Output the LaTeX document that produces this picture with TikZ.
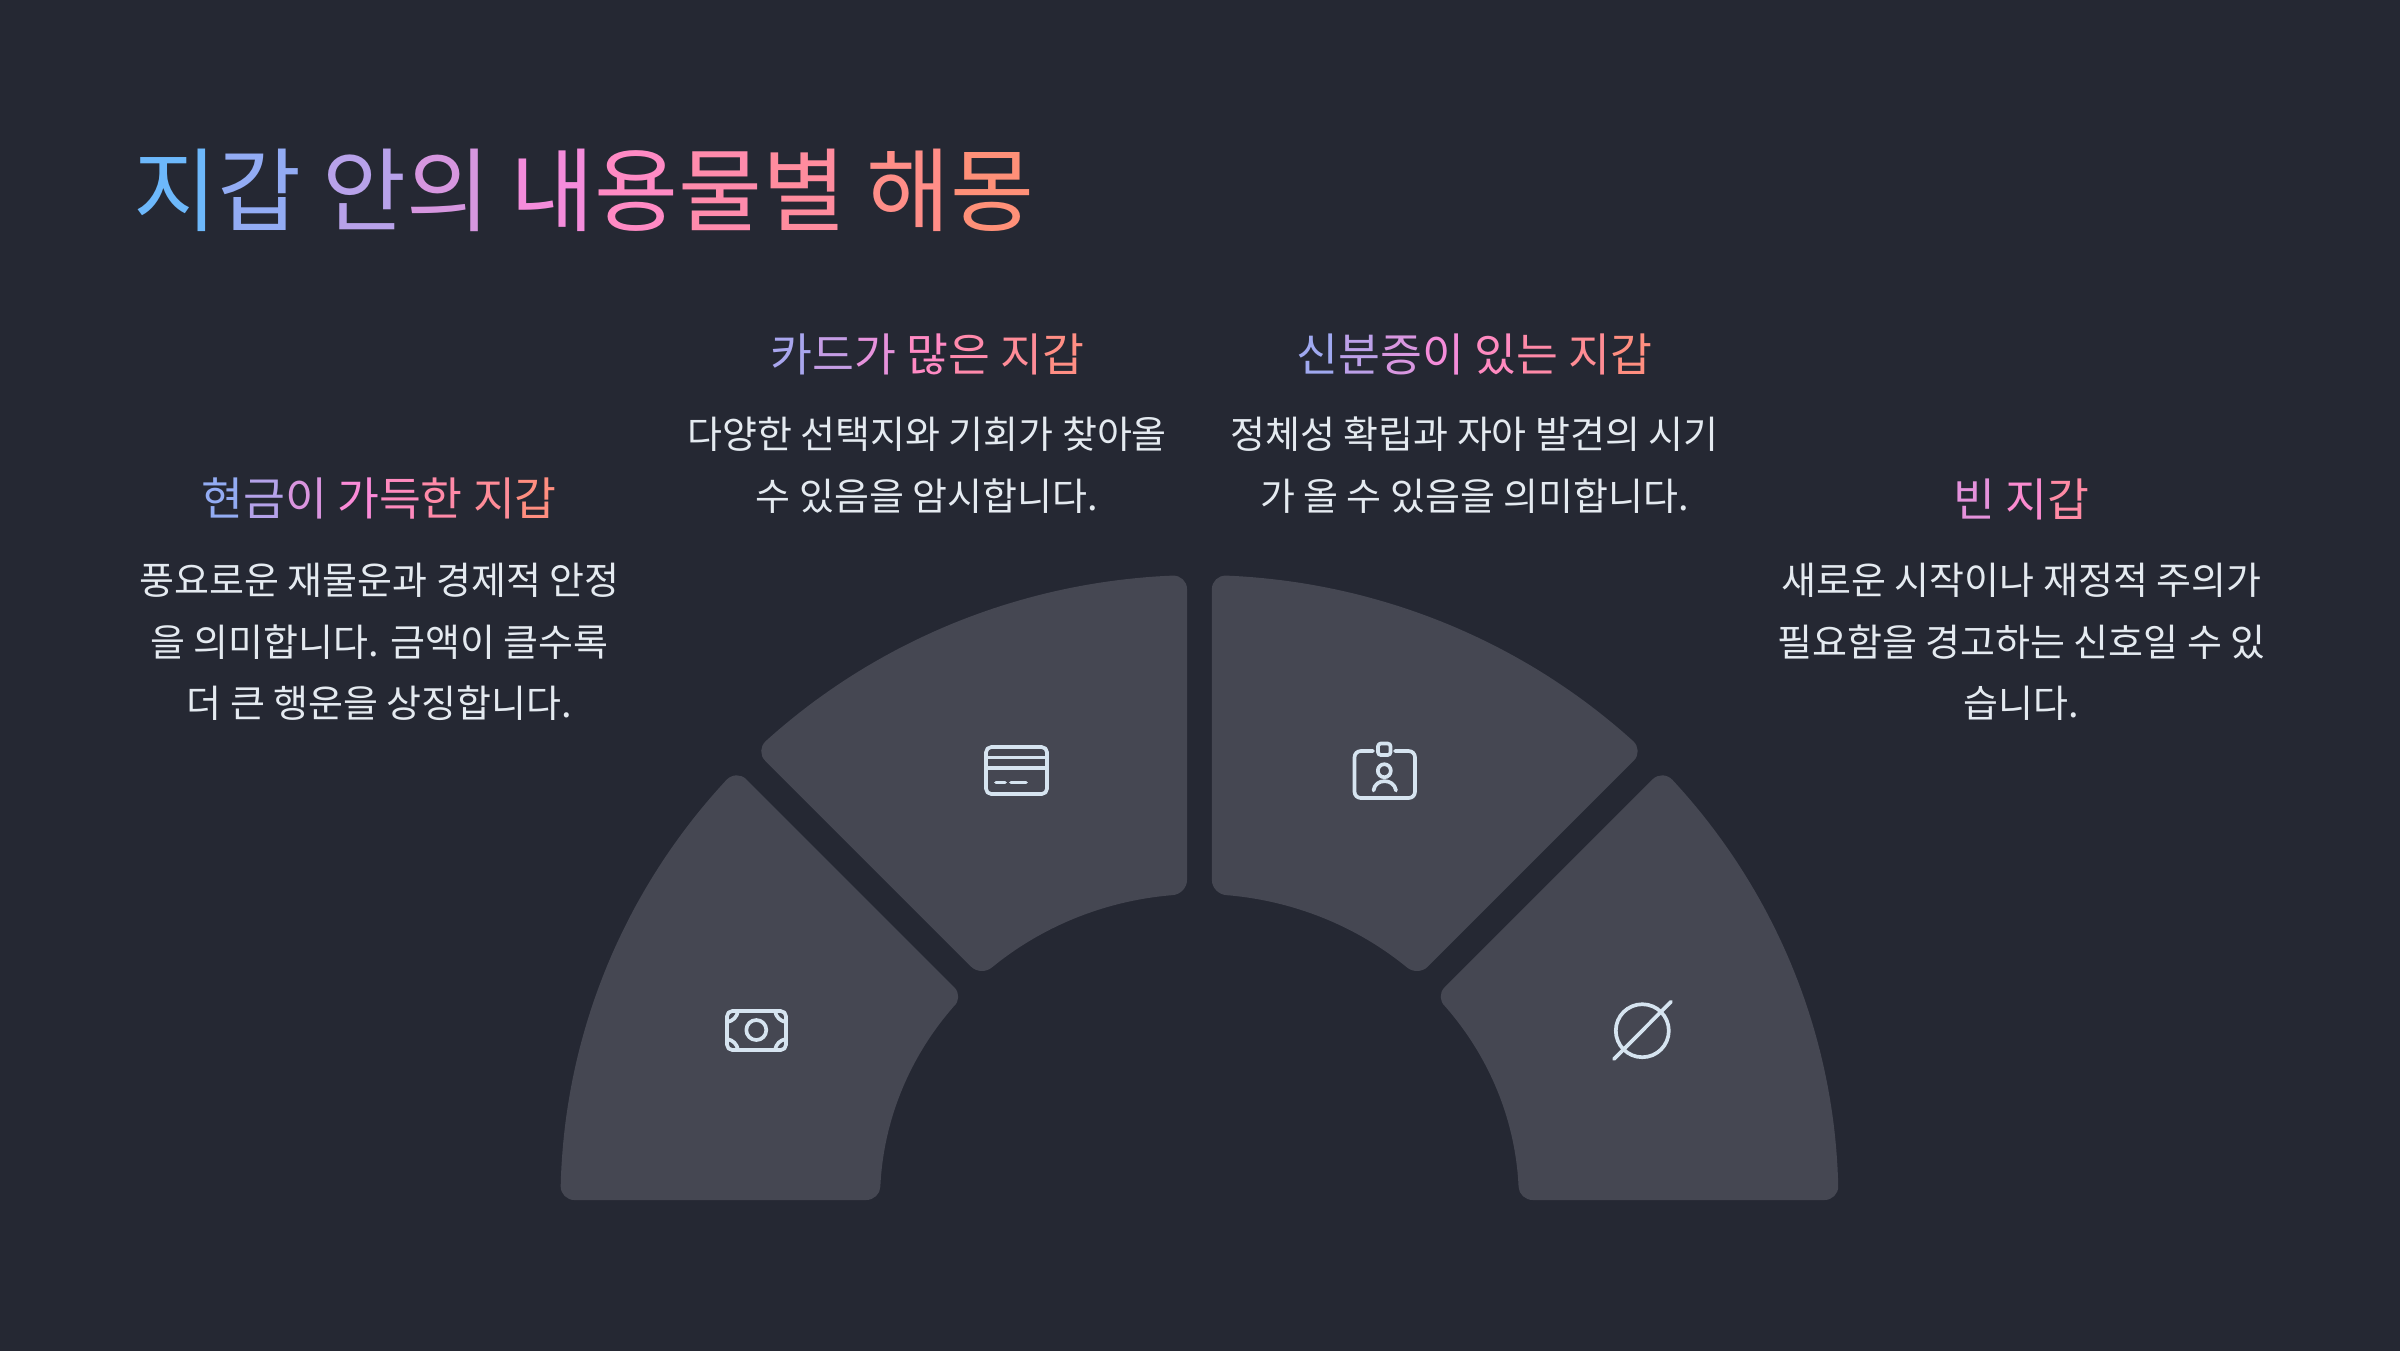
\documentclass[tikz,border=0pt]{standalone}
\usepackage{fontspec}
\usetikzlibrary{calc}
\setmainfont{Noto Sans CJK KR}
\definecolor{bgc}{HTML}{252833}
\definecolor{secc}{HTML}{454752}
\definecolor{icoc}{HTML}{D6E4F0}
\definecolor{bodyc}{HTML}{E4EAF0}
\newcommand{\cc}[2]{\textcolor[HTML]{#1}{#2}}
\tikzset{
  icon/.style={draw=icoc,line width=1.05pt,line cap=round,line join=round},
  sector/.style={fill=secc,draw=none},
  bodytext/.style={text=bodyc,align=center,font=\fontsize{10.8}{17.55}\selectfont,inner sep=0pt},
  subtext/.style={align=center,font=\fontsize{12.95}{15}\selectfont,inner sep=0pt},
}
\newcommand{\ellpt}[4]{\coordinate (#1) at ({1199.5+#2*cos(#4)},{1200-#3*sin(#4)});}
\newcommand{\rnd}[3]{.. controls ($(#1)!.55!(#2)$) and ($(#3)!.55!(#2)$) .. (#3)}
\newcommand{\sectorone}{
 \coordinate (A) at (560.5,1200); \coordinate (A0) at (574.5,1200);
 \ellpt{A1}{639}{625}{178.75}
 \coordinate (B) at (736.3,769.3); \ellpt{B1}{639}{625}{137.76}
 \coordinate (B2) at (746.2,779.2);
 \coordinate (C) at (964.2,997.2); \coordinate (C1) at (954.3,987.3);
 \ellpt{C2}{319.5}{303}{140.3}
 \coordinate (D) at (880,1200); \coordinate (D1) at (866,1200);
 \ellpt{D2}{319.5}{303}{177.5}
 \fill[sector] (A1) -- plot[domain=178.75:137.76,samples=50,variable=\t] ({1199.5+639*cos(\t)},{1200-625*sin(\t)})
   \rnd{B1}{B}{B2} -- (C1) \rnd{C1}{C}{C2}
   -- plot[domain=140.3:177.5,samples=40,variable=\t] ({1199.5+319.5*cos(\t)},{1200-303*sin(\t)})
   \rnd{D2}{D}{D1} -- (A0) \rnd{A0}{A}{A1} -- cycle;
}
\newcommand{\sectortwo}{
 \coordinate (E) at (1187,575.1); \coordinate (E1) at (1187,589);
 \ellpt{E2}{639}{625}{92.4}
 \coordinate (F) at (755.2,750.7); \ellpt{F1}{639}{625}{132.75}
 \coordinate (F2) at (765.1,760.6);
 \coordinate (G) at (981.1,976.6); \coordinate (G1) at (971.2,966.7);
 \ellpt{G2}{319.5}{306}{130.5}
 \coordinate (H) at (1187,894); \ellpt{H1}{319.5}{306}{94.84}
 \coordinate (H2) at (1187,880);
 \fill[sector] (E1) \rnd{E1}{E}{E2}
   -- plot[domain=92.4:132.75,samples=50,variable=\t] ({1199.5+639*cos(\t)},{1200-625*sin(\t)})
   \rnd{F1}{F}{F2} -- (G1) \rnd{G1}{G}{G2}
   -- plot[domain=130.5:94.84,samples=40,variable=\t] ({1199.5+319.5*cos(\t)},{1200-306*sin(\t)})
   \rnd{H1}{H}{H2} -- cycle;
}
\begin{document}
\begin{tikzpicture}[x=0.01cm,y=-0.01cm]
\useasboundingbox (0,0) rectangle (2400,1350);
\fill[bgc] (-10,-10) rectangle (2410,1360);
\sectorone
\sectortwo
\begin{scope}[xshift=23.975cm,xscale=-1]
\sectorone
\sectortwo
\end{scope}
% title
\node[anchor=base west,inner sep=0pt,font=\fontsize{25.95}{30}\selectfont] (title) at (133,224.5) {\cc{6DB8FB}{지}\cc{93ACF4}{갑} \cc{B8A2EA}{안}\cc{D696DF}{의} \cc{F48CDB}{내}\cc{FF8AC4}{용}\cc{FF8BAC}{물}\cc{FF8C9E}{별} \cc{FF8E88}{해}\cc{FF9078}{몽}};
% subtitles
\node[subtext] (s1) at (379,499) {\cc{93ACF3}{현}\cc{B5A2EA}{금}\cc{DA95DF}{이} \cc{FB8BD8}{가}\cc{FF8ABE}{득}\cc{FF8AA8}{한} \cc{FF8C98}{지}\cc{FF8E80}{갑}};
\node[subtext] (s2) at (927.5,354) {\cc{A9A6EE}{카}\cc{C59DE5}{드}\cc{E692DC}{가} \cc{FF8AC4}{많}\cc{FF8AAC}{은} \cc{FF8C98}{지}\cc{FF8E84}{갑}};
\node[subtext] (s3) at (1474.5,354) {\cc{A0A9F0}{신}\cc{BCA0E8}{분}\cc{D897E0}{증}\cc{F58CDA}{이} \cc{FF8AC0}{있}\cc{FF8AA8}{는} \cc{FF8C94}{지}\cc{FF8E80}{갑}};
\node[subtext] (s4) at (2021.5,499) {\cc{E592DC}{빈} \cc{FB8BD0}{지}\cc{FF8AA4}{갑}};
% bodies
\node[bodytext] (b1) at (379.5,642) {풍요로운 재물운과 경제적 안정\\을 의미합니다. 금액이 클수록\\더 큰 행운을 상징합니다.};
\node[bodytext] (b2) at (927,465) {다양한 선택지와 기회가 찾아올\\수 있음을 암시합니다.};
\node[bodytext] (b3) at (1474.5,465) {정체성 확립과 자아 발견의 시기\\가 올 수 있음을 의미합니다.};
\node[bodytext] (b4) at (2021.5,642) {새로운 시작이나 재정적 주의가\\필요함을 경고하는 신호일 수 있\\습니다.};
% cash icon
\draw[icon,rounded corners=1.5pt] (727,1011) rectangle (786,1050);
\draw[icon] (756.3,1030) circle (10);
\draw[icon] (738,1011) .. controls (737,1017) and (733,1021) .. (727,1022);
\draw[icon] (775,1011) .. controls (776,1017) and (780,1021) .. (786,1022);
\draw[icon] (738,1050) .. controls (737,1044) and (733,1040) .. (727,1039);
\draw[icon] (775,1050) .. controls (776,1044) and (780,1040) .. (786,1039);
% card icon
\draw[icon,rounded corners=1.5pt] (986,747) rectangle (1047,794);
\draw[icon] (986,757.5) -- (1047,757.5);
\draw[icon] (986,768.3) -- (1047,768.3);
\draw[icon] (996,782.5) -- (1005,782.5);
\draw[icon] (1011,782.5) -- (1026,782.5);
% id icon
\draw[icon,rounded corners=1.8pt] (1373,751) -- (1354.5,751) -- (1354.5,798) -- (1415,798) -- (1415,751) -- (1395,751);
\draw[icon,rounded corners=0.8pt] (1378,743.5) rectangle (1390.5,755);
\draw[icon] (1384.3,770.7) circle (6.5);
\draw[icon] (1373.5,790.5) .. controls (1375,778) and (1394,778) .. (1396,790.5);
% empty icon
\draw[icon] (1642.3,1030.7) circle (26.5);
\draw[icon] (1614,1059) -- (1671,1001.7);
\end{tikzpicture}
\end{document}
